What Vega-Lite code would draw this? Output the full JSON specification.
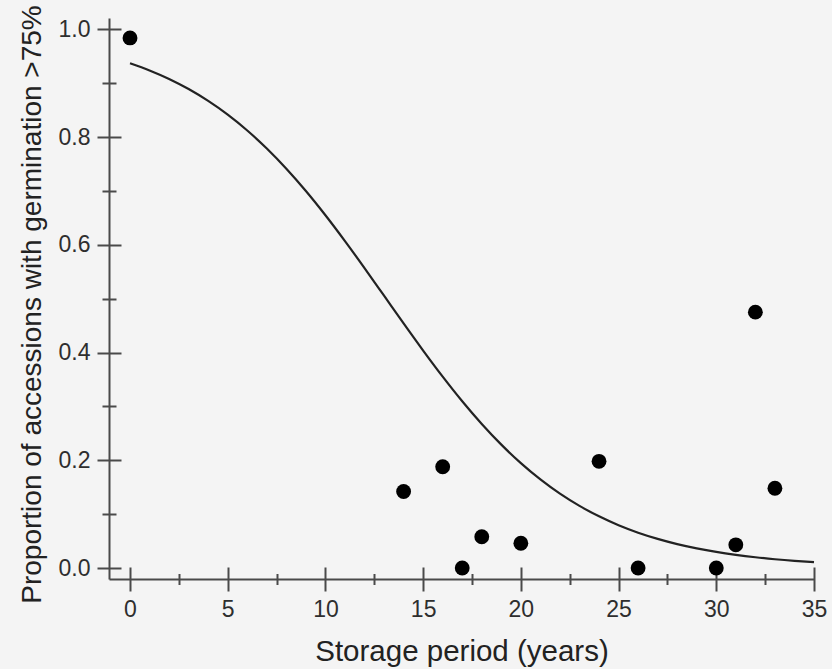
{
  "$schema": "https://vega.github.io/schema/vega-lite/v6.json",
  "width": 705,
  "height": 561,
  "autosize": "none",
  "padding": {"left": 109, "top": 18, "right": 18, "bottom": 90},
  "background": "#f4f4f4",
  "config": {
    "view": {"stroke": null},
    "font": "Liberation Sans",
    "axis": {
      "grid": false,
      "domainColor": "#4a4a4a",
      "domainWidth": 2,
      "tickColor": "#4a4a4a",
      "tickWidth": 2,
      "labelFont": "Liberation Sans",
      "labelFontSize": 23,
      "labelColor": "#2e2e2e",
      "titleFont": "Liberation Sans",
      "titleFontSize": 28,
      "titleFontWeight": "normal",
      "titleColor": "#222222"
    }
  },
  "datasets": {
    "points": [
      {"year": 0, "p": 0.984},
      {"year": 14, "p": 0.142},
      {"year": 16, "p": 0.188},
      {"year": 17, "p": 0.0},
      {"year": 18, "p": 0.058},
      {"year": 20, "p": 0.046},
      {"year": 24, "p": 0.198},
      {"year": 26, "p": 0.0},
      {"year": 30, "p": 0.0},
      {"year": 31, "p": 0.043},
      {"year": 32, "p": 0.475},
      {"year": 33, "p": 0.148}
    ],
    "curve": [
      {"year": 0, "p": 0.9370}, {"year": 1, "p": 0.9237}, {"year": 2, "p": 0.9079},
      {"year": 3, "p": 0.8891}, {"year": 4, "p": 0.8671}, {"year": 5, "p": 0.8416},
      {"year": 6, "p": 0.8122}, {"year": 7, "p": 0.7787}, {"year": 8, "p": 0.7412},
      {"year": 9, "p": 0.6998}, {"year": 10, "p": 0.6548}, {"year": 11, "p": 0.6068},
      {"year": 12, "p": 0.5568}, {"year": 13, "p": 0.5055}, {"year": 14, "p": 0.4541},
      {"year": 15, "p": 0.4037}, {"year": 16, "p": 0.3553}, {"year": 17, "p": 0.3096},
      {"year": 18, "p": 0.2674}, {"year": 19, "p": 0.2290}, {"year": 20, "p": 0.1947},
      {"year": 21, "p": 0.1644}, {"year": 22, "p": 0.1380}, {"year": 23, "p": 0.1153},
      {"year": 24, "p": 0.0959}, {"year": 25, "p": 0.0794}, {"year": 26, "p": 0.0656},
      {"year": 27, "p": 0.0541}, {"year": 28, "p": 0.0444}, {"year": 29, "p": 0.0365},
      {"year": 30, "p": 0.0299}, {"year": 31, "p": 0.0245}, {"year": 32, "p": 0.0200},
      {"year": 33, "p": 0.0163}, {"year": 34, "p": 0.0133}, {"year": 35, "p": 0.0109}
    ]
  },
  "resolve": {"axis": {"x": "independent", "y": "independent"}},
  "layer": [
    {
      "data": {"name": "curve"},
      "mark": {"type": "line", "color": "#222222", "strokeWidth": 2.2, "interpolate": "monotone"},
      "encoding": {
        "x": {
          "field": "year", "type": "quantitative",
          "scale": {"domain": [-1.075, 35], "nice": false, "zero": false},
          "axis": {
            "orient": "bottom", "values": [0, 5, 10, 15, 20, 25, 30, 35], "format": "d",
            "ticks": false, "labelPadding": 19, "labelFlush": false,
            "title": "Storage period (years)", "titlePadding": 16, "titleFontSize": 29.5
          }
        },
        "y": {
          "field": "p", "type": "quantitative",
          "scale": {"domain": [-0.0204, 1.021], "nice": false, "zero": false},
          "axis": {
            "orient": "left", "values": [0, 0.2, 0.4, 0.6, 0.8, 1.0], "format": ".1f",
            "ticks": false, "labelPadding": 19, "labelFlush": false,
            "title": "Proportion of accessions with germination >75%", "titlePadding": 12,
            "titleY": 286
          }
        }
      }
    },
    {
      "data": {"name": "curve"},
      "mark": {"type": "line", "opacity": 0},
      "encoding": {
        "x": {
          "field": "year", "type": "quantitative",
          "axis": {
            "orient": "bottom", "values": [2.5, 7.5, 12.5, 17.5, 22.5, 27.5, 32.5],
            "domain": false, "labels": false, "title": null, "ticks": true,
            "tickSize": 11, "offset": -5.5
          }
        },
        "y": {
          "field": "p", "type": "quantitative",
          "axis": {
            "orient": "left", "values": [0.1, 0.3, 0.5, 0.7, 0.9],
            "domain": false, "labels": false, "title": null, "ticks": true,
            "tickSize": 14, "offset": -7
          }
        }
      }
    },
    {
      "data": {"name": "points"},
      "mark": {"type": "circle", "color": "#000000", "opacity": 1, "size": 220},
      "encoding": {
        "x": {
          "field": "year", "type": "quantitative",
          "axis": {
            "orient": "bottom", "values": [0, 5, 10, 15, 20, 25, 30, 35],
            "domain": false, "labels": false, "title": null, "ticks": true,
            "tickSize": 24, "offset": -12
          }
        },
        "y": {
          "field": "p", "type": "quantitative",
          "axis": {
            "orient": "left", "values": [0, 0.2, 0.4, 0.6, 0.8, 1.0],
            "domain": false, "labels": false, "title": null, "ticks": true,
            "tickSize": 24, "offset": -12
          }
        }
      }
    }
  ]
}
